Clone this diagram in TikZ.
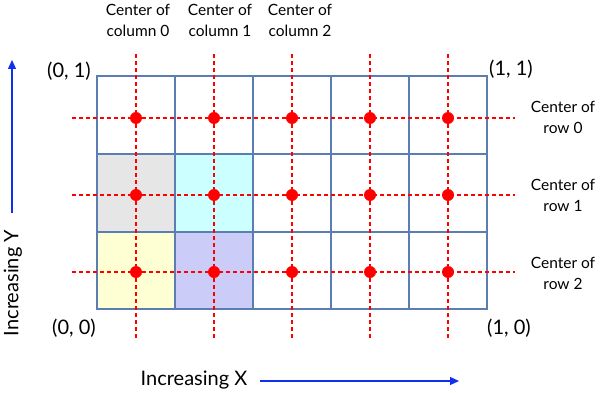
\documentclass[tikz,border=0pt]{standalone}
\usepackage{fontspec}
\setmainfont{Lato}
\usetikzlibrary{arrows.meta}
\definecolor{gridblue}{HTML}{5B7DB1}
\definecolor{cellgray}{HTML}{E6E6E6}
\definecolor{cellcyan}{HTML}{CCFFFF}
\definecolor{cellyellow}{HTML}{FFFFD4}
\definecolor{celllav}{HTML}{CCCCF8}
\definecolor{dotred}{HTML}{FF0000}
\definecolor{arrowblue}{HTML}{1030F0}
\tikzset{
  gridline/.style={draw=gridblue, line width=1.2pt},
  centerline/.style={draw=dotred, line width=1.5pt, dash pattern=on 4pt off 3pt},
  dotnode/.style={circle, fill=dotred, inner sep=0pt, minimum size=12pt},
  smalllabel/.style={font=\fontsize{15.5}{21}\selectfont, align=center, inner sep=0pt},
  cornerlabel/.style={font=\fontsize{20}{22}\selectfont, inner sep=0pt},
  axislabel/.style={font=\fontsize{20}{22}\selectfont, inner sep=0pt},
  axisarrow/.style={draw=arrowblue, line width=1.2pt, -{Triangle[length=9pt,width=8pt]}}
}
\begin{document}
\begin{tikzpicture}[x=1pt,y=-1pt]
\useasboundingbox (0,0) rectangle (600,393);
% coloured cells
\fill[cellgray] (97,154) rectangle (175,232);
\fill[cellcyan] (175,154) rectangle (253,232);
\fill[cellyellow] (97,232) rectangle (175,309);
\fill[celllav] (175,232) rectangle (253,309);
% grid
\draw[gridline] (97,76) rectangle (487,309);
\foreach \x in {175,253,331,409} \draw[gridline] (\x,76) -- (\x,309);
\foreach \y in {154,232} \draw[gridline] (97,\y) -- (487,\y);
% center lines
\foreach \x [count=\i from 0] in {136,214,292,370,448} {
  \coordinate (vt\i) at (\x,54);
  \coordinate (vb\i) at (\x,340);
  \draw[centerline] (vt\i) -- (vb\i);
}
\foreach \y [count=\j from 0] in {118,195,272} {
  \coordinate (hl\j) at (72,\y);
  \coordinate (hr\j) at (515,\y);
  \draw[centerline] (hl\j) -- (hr\j);
}
% dots
\foreach \x [count=\i from 0] in {136,214,292,370,448}
  \foreach \y [count=\j from 0] in {118,195,272}
    \node[dotnode] (d\i\j) at (\x,\y) {};
% column labels
\node[smalllabel] (c0) at (138,20) {Center of\\column 0};
\node[smalllabel] (c1) at (220,20) {Center of\\column 1};
\node[smalllabel] (c2) at (300,20) {Center of\\column 2};
% row labels
\node[smalllabel] (r0) at (563,117) {Center of\\row 0};
\node[smalllabel] (r1) at (563,195) {Center of\\row 1};
\node[smalllabel] (r2) at (563,273) {Center of\\row 2};
% corner labels
\node[cornerlabel] (p01) at (69,71) {(0, 1)};
\node[cornerlabel] (p11) at (511,69) {(1, 1)};
\node[cornerlabel] (p00) at (74,328) {(0, 0)};
\node[cornerlabel] (p10) at (509,328) {(1, 0)};
% axes
\node[axislabel, rotate=90] (ly) at (13,283) {Increasing Y};
\coordinate (ys) at (12,213);
\coordinate (ye) at (12,60);
\draw[axisarrow] (ys) -- (ye);
\node[axislabel] (lx) at (194,380) {Increasing X};
\coordinate (xs) at (260,381);
\coordinate (xe) at (459,381);
\draw[axisarrow] (xs) -- (xe);
\end{tikzpicture}
\end{document}
